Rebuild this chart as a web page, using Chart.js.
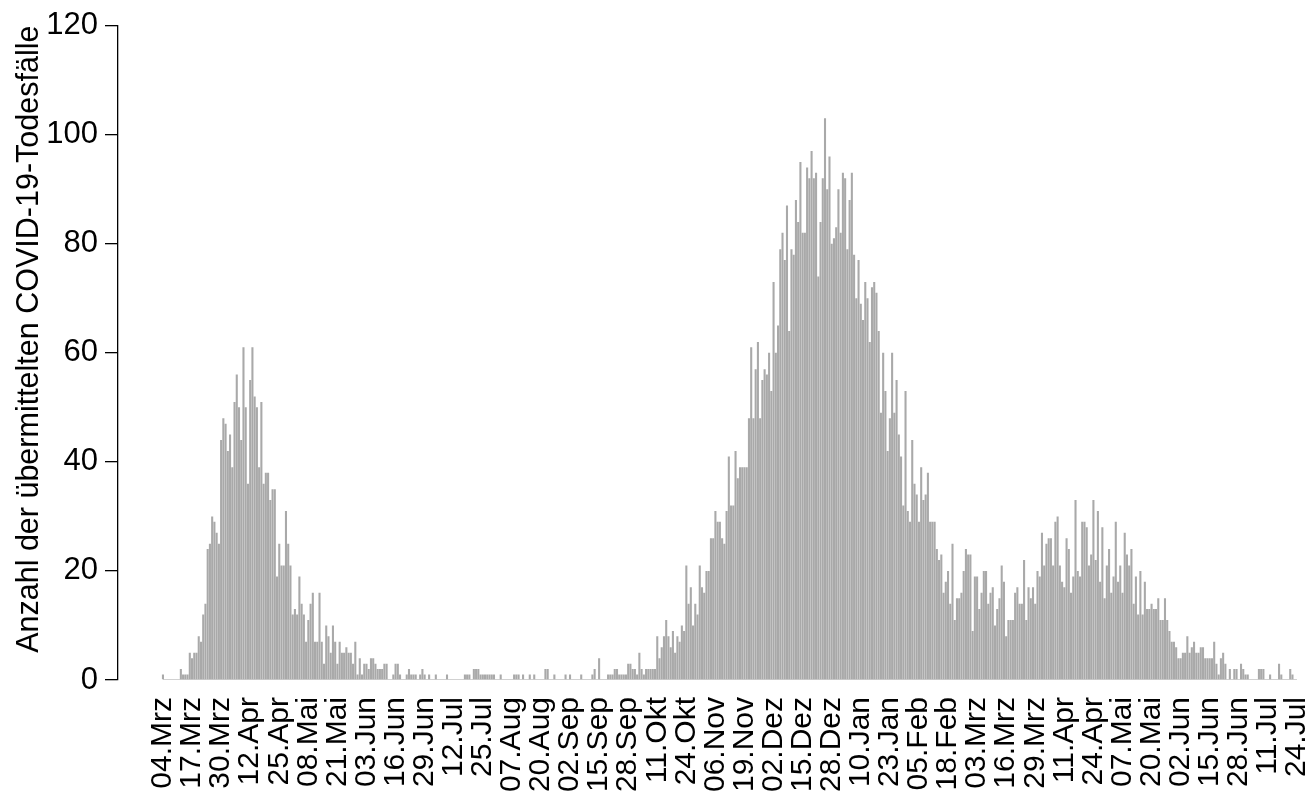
<!DOCTYPE html>
<html>
<head>
<meta charset="utf-8">
<script src="https://cdn.jsdelivr.net/npm/chart.js@4/dist/chart.umd.min.js"></script>
<style>
  html, body { margin: 0; padding: 0; background: #fff; }
  #wrap { width: 1312px; height: 793px; }
</style>
</head>
<body>
<div id="wrap"><canvas id="myChart"></canvas></div>
<script>
// tick labels, one every 13 days starting 04.03.2020
var tickLabels = ['04.Mrz', '17.Mrz', '30.Mrz', '12.Apr', '25.Apr', '08.Mai', '21.Mai', '03.Jun', '16.Jun', '29.Jun',
  '12.Jul', '25.Jul', '07.Aug', '20.Aug', '02.Sep', '15.Sep', '28.Sep', '11.Okt', '24.Okt', '06.Nov',
  '19.Nov', '02.Dez', '15.Dez', '28.Dez', '10.Jan', '23.Jan', '05.Feb', '18.Feb', '03.Mrz', '16.Mrz',
  '29.Mrz', '11.Apr', '24.Apr', '07.Mai', '20.Mai', '02.Jun', '15.Jun', '28.Jun', '11.Jul', '24.Jul'];
var tickStep = 13;

// daily reported deaths, 04.03.2020 - 24.07.2021
var deaths = [
  1, 0, 0, 0, 0, 0, 0, 0, 2, 1, 1, 1, 5, 4, 5, 5, 8, 7, 12, 14,
  24, 25, 30, 29, 27, 25, 44, 48, 47, 42, 45, 39, 51, 56, 50, 44, 61, 50, 36, 55,
  61, 52, 50, 39, 51, 36, 38, 38, 33, 35, 35, 19, 25, 21, 21, 31, 25, 21, 12, 13,
  12, 19, 14, 12, 7, 11, 14, 16, 7, 7, 16, 7, 3, 10, 8, 5, 10, 7, 3, 7,
  5, 5, 6, 5, 5, 3, 7, 1, 4, 1, 3, 3, 2, 4, 4, 3, 2, 2, 2, 3,
  3, 0, 0, 1, 3, 3, 1, 0, 0, 1, 2, 1, 1, 1, 0, 1, 2, 1, 0, 1,
  0, 0, 1, 0, 0, 0, 0, 1, 0, 0, 0, 0, 0, 0, 0, 1, 1, 1, 0, 2,
  2, 2, 1, 1, 1, 1, 1, 1, 1, 0, 0, 1, 0, 0, 0, 0, 0, 1, 1, 1,
  0, 1, 0, 0, 1, 0, 1, 0, 0, 0, 0, 2, 2, 0, 0, 1, 0, 0, 0, 0,
  1, 0, 1, 0, 0, 0, 0, 1, 0, 0, 0, 0, 1, 2, 0, 4, 0, 0, 0, 1,
  1, 1, 2, 2, 1, 1, 1, 1, 3, 3, 2, 2, 1, 5, 2, 1, 2, 2, 2, 2,
  2, 8, 4, 6, 8, 11, 8, 6, 9, 5, 8, 7, 10, 9, 21, 14, 17, 10, 14, 12,
  21, 17, 16, 20, 20, 26, 26, 31, 29, 29, 26, 25, 31, 41, 32, 32, 42, 37, 39, 39,
  39, 39, 48, 61, 48, 57, 62, 48, 55, 57, 56, 60, 53, 73, 60, 65, 79, 82, 77, 87,
  64, 79, 78, 88, 84, 95, 82, 82, 94, 92, 97, 92, 93, 74, 84, 92, 103, 90, 96, 80,
  81, 83, 90, 82, 93, 92, 79, 88, 93, 78, 70, 77, 69, 66, 73, 70, 62, 72, 73, 71,
  64, 49, 60, 53, 42, 48, 60, 49, 55, 45, 41, 32, 53, 31, 29, 44, 36, 34, 29, 39,
  33, 34, 38, 29, 29, 29, 24, 22, 23, 16, 18, 20, 14, 25, 11, 15, 15, 16, 20, 24,
  23, 23, 9, 19, 19, 13, 16, 20, 20, 14, 16, 17, 10, 13, 15, 21, 18, 8, 11, 11,
  11, 16, 17, 14, 14, 22, 11, 17, 15, 17, 14, 20, 19, 27, 21, 25, 26, 26, 21, 29,
  30, 21, 18, 17, 26, 24, 16, 19, 33, 20, 19, 29, 29, 28, 21, 23, 33, 22, 31, 18,
  28, 15, 21, 24, 16, 19, 29, 18, 21, 16, 27, 23, 21, 24, 14, 19, 12, 20, 12, 18,
  13, 13, 14, 13, 13, 15, 11, 11, 15, 11, 9, 7, 7, 6, 4, 4, 5, 5, 8, 5,
  6, 7, 5, 5, 6, 6, 4, 4, 4, 4, 7, 3, 1, 4, 5, 3, 0, 2, 0, 2,
  2, 0, 3, 2, 1, 1, 0, 0, 0, 0, 2, 2, 2, 0, 0, 1, 0, 0, 0, 3,
  1, 0, 0, 0, 2, 1, 0, 0
];

var yTicks = [0, 20, 40, 60, 80, 100, 120];
var yTitle = 'Anzahl der übermittelten COVID-19-Todesfälle';

var fontFamily = '"Liberation Sans", Arial, Helvetica, sans-serif';

var barPoints = deaths.map(function (v, i) { return { x: i, y: v }; });
var basePoints = deaths.map(function (v, i) { return { x: i, y: 0 }; });

var config = {
  type: 'bar',
  data: {
    datasets: [
      {
        type: 'bar',
        data: barPoints,
        backgroundColor: '#a9a9a9',
        borderWidth: 0,
        barPercentage: 0.93,
        categoryPercentage: 1,
        order: 1
      },
      {
        type: 'line',
        data: basePoints,
        borderColor: '#c2c2c2',
        borderWidth: 1.5,
        pointRadius: 0,
        order: 2
      }
    ]
  },
  options: {
    responsive: true,
    maintainAspectRatio: false,
    animation: false,
    layout: { padding: { top: 20, right: 7, left: 0, bottom: 0 } },
    plugins: {
      legend: { display: false },
      tooltip: { enabled: false }
    },
    scales: {
      x: {
        type: 'linear',
        min: -20.1,
        max: 510.6,
        offset: false,
        grid: { display: false, drawTicks: false },
        border: { display: false },
        afterBuildTicks: function (scale) {
          scale.ticks = tickLabels.map(function (t, k) { return { value: k * tickStep }; });
        },
        afterFit: function (scale) {
          scale.height = 113;
          scale.paddingLeft = 0;
          scale.paddingRight = 0;
        },
        ticks: {
          autoSkip: false,
          minRotation: 90,
          maxRotation: 90,
          padding: 17,
          color: '#000',
          font: { family: fontFamily, size: 30 },
          callback: function (v, k) { return tickLabels[k]; }
        }
      },
      y: {
        min: 0,
        max: 120,
        afterBuildTicks: function (scale) {
          scale.ticks = yTicks.map(function (v) { return { value: v }; });
        },
        afterFit: function (scale) { scale.width = 118; },
        grid: {
          display: true,
          drawOnChartArea: false,
          drawTicks: true,
          tickLength: 13,
          color: '#000',
          lineWidth: 1.3
        },
        border: { display: true, color: '#000', width: 1.3 },
        ticks: {
          padding: 7,
          color: '#000',
          font: { family: fontFamily, size: 31 }
        },
        title: {
          display: true,
          text: yTitle,
          color: '#000',
          align: 'end',
          font: { family: fontFamily, size: 30.5, lineHeight: 1 },
          padding: { top: 14, bottom: 0 }
        }
      }
    }
  }
};

var myChart = new Chart(document.getElementById('myChart'), config);
</script>
</body>
</html>
